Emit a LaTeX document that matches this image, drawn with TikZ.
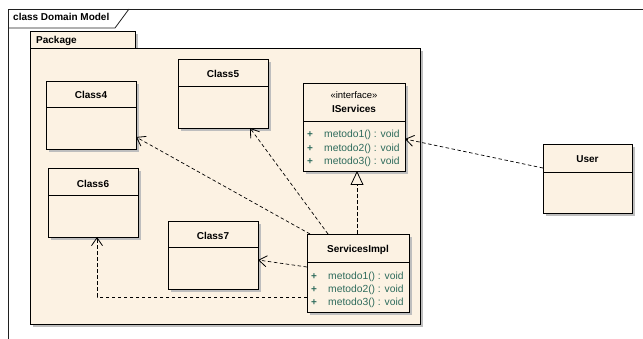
\documentclass[tikz,border=0pt]{standalone}
\usepackage{fontspec}
\setmainfont{Liberation Sans}
\usetikzlibrary{arrows.meta,calc,shadows}

\definecolor{umlfill}{HTML}{FCF2E3}
\definecolor{umlshadow}{HTML}{BEBEBE}
\definecolor{opcolor}{HTML}{2E6B5C}
\definecolor{framecol}{HTML}{202020}

% class box: name, x1, y1, x2, y2, y of the compartment rule
\newcommand\umlclass[6]{%
  \node[classbox,minimum width=#4-#2,minimum height=#5-#3] (#1) at (#2,#3) {};
  \draw[rule] (#1.west |- 0,#6) -- (#1.east |- 0,#6);
}

\begin{document}
\begin{tikzpicture}[x=1pt,y=-1pt,
  shadowed/.style={drop shadow={shadow xshift=3pt,shadow yshift=-3pt,fill=umlshadow,opacity=1}},
  classbox/.style={draw=black,line width=0.8pt,fill=umlfill,shadowed,anchor=north west,inner sep=0pt,outer sep=0pt},
  rule/.style={draw=black,line width=0.8pt},
  frameline/.style={draw=framecol,line width=0.8pt},
  title/.style={font=\bfseries\fontsize{10}{12}\selectfont,anchor=base,inner sep=0pt},
  stereo/.style={font=\fontsize{9.5}{12}\selectfont,anchor=base,inner sep=0pt},
  op/.style={font=\fontsize{10.3}{12}\selectfont,text=opcolor,anchor=base west,inner sep=0pt},
  vis/.style={font=\bfseries\fontsize{10}{12}\selectfont,text=opcolor,anchor=base,inner sep=0pt},
  dep/.style={draw=black,line width=0.7pt,dash pattern=on 3.5pt off 2.5pt,
    -{Straight Barb[length=8pt,width=11pt,line width=0.8pt]}},
  realize/.style={draw=black,line width=0.7pt,dash pattern=on 3.5pt off 2.5pt,
    -{Triangle[open,length=14pt,width=13pt,line width=0.8pt]}}
]
\useasboundingbox (0,0) rectangle (643,339);
\fill[white] (0,0) rectangle (643,339);

% diagram frame
\draw[frameline] (643,9) -- (8,9) -- (8,339);
\draw[frameline] (8,28) -- (115,28) -- (129,9);
\node[title,anchor=base west] (frametitle) at (13,21) {class Domain Model};

% package
\node[classbox,minimum width=105,minimum height=17] (pkgtab) at (30,31) {};
\node[classbox,minimum width=390,minimum height=276] (pkg) at (30,48) {};
\node[title,anchor=base west] (pkgtitle) at (36,43.5) {Package};

% classes
\umlclass{c4}{46}{81}{136}{149}{107}
\node[title] (c4t) at (91,98.5) {Class4};

\umlclass{c5}{178}{59}{268}{128}{86}
\node[title] (c5t) at (223,77.5) {Class5};

\umlclass{is}{303}{83}{405}{171}{121}
\node[stereo] (ist) at (354,98.5) {«interface»};
\node[title] (isn) at (354,112.5) {IServices};
\node[vis] (isp1) at (310,137.5) {+};
\node[vis] (isp2) at (310,151.5) {+};
\node[vis] (isp3) at (310,164.5) {+};
\node[op] (iso1) at (324,137.5) {metodo1() : void};
\node[op] (iso2) at (324,151.5) {metodo2() : void};
\node[op] (iso3) at (324,164.5) {metodo3() : void};

\umlclass{c6}{48}{168}{138}{237}{195}
\node[title] (c6t) at (93,187.5) {Class6};

\umlclass{c7}{168}{221}{258}{289}{247}
\node[title] (c7t) at (213,239.5) {Class7};

\umlclass{si}{307}{234}{409}{312}{262}
\node[title] (sin) at (358,252.5) {ServicesImpl};
\node[vis] (sip1) at (314,279.5) {+};
\node[vis] (sip2) at (314,292.5) {+};
\node[vis] (sip3) at (314,305.5) {+};
\node[op] (sio1) at (328,279.5) {metodo1() : void};
\node[op] (sio2) at (328,292.5) {metodo2() : void};
\node[op] (sio3) at (328,305.5) {metodo3() : void};

\umlclass{user}{543}{144}{632}{213}{172}
\node[title] (usert) at (587.5,162.5) {User};

% relationships
\draw[dep] ($(si.north west)+(3,0)$) -- ($(c4.south east)+(0,-12)$);
\draw[dep] ($(si.north west)+(21,0)$) -- ($(c5.south east)+(-18,0)$);
\draw[realize] ($(si.north)+(-1,0)$) -- ($(si.north |- is.south)+(-1,0)$);
\draw[dep] ($(si.north west)+(0,33)$) -- ($(c7.north east)+(0,39)$);
\draw[dep] ($(si.north west)+(0,63)$) -| ($(c6.south)+(4,0)$);
\draw[dep] ($(user.north west)+(0,24)$) -- ($(is.north east)+(0,56)$);
\end{tikzpicture}
\end{document}
